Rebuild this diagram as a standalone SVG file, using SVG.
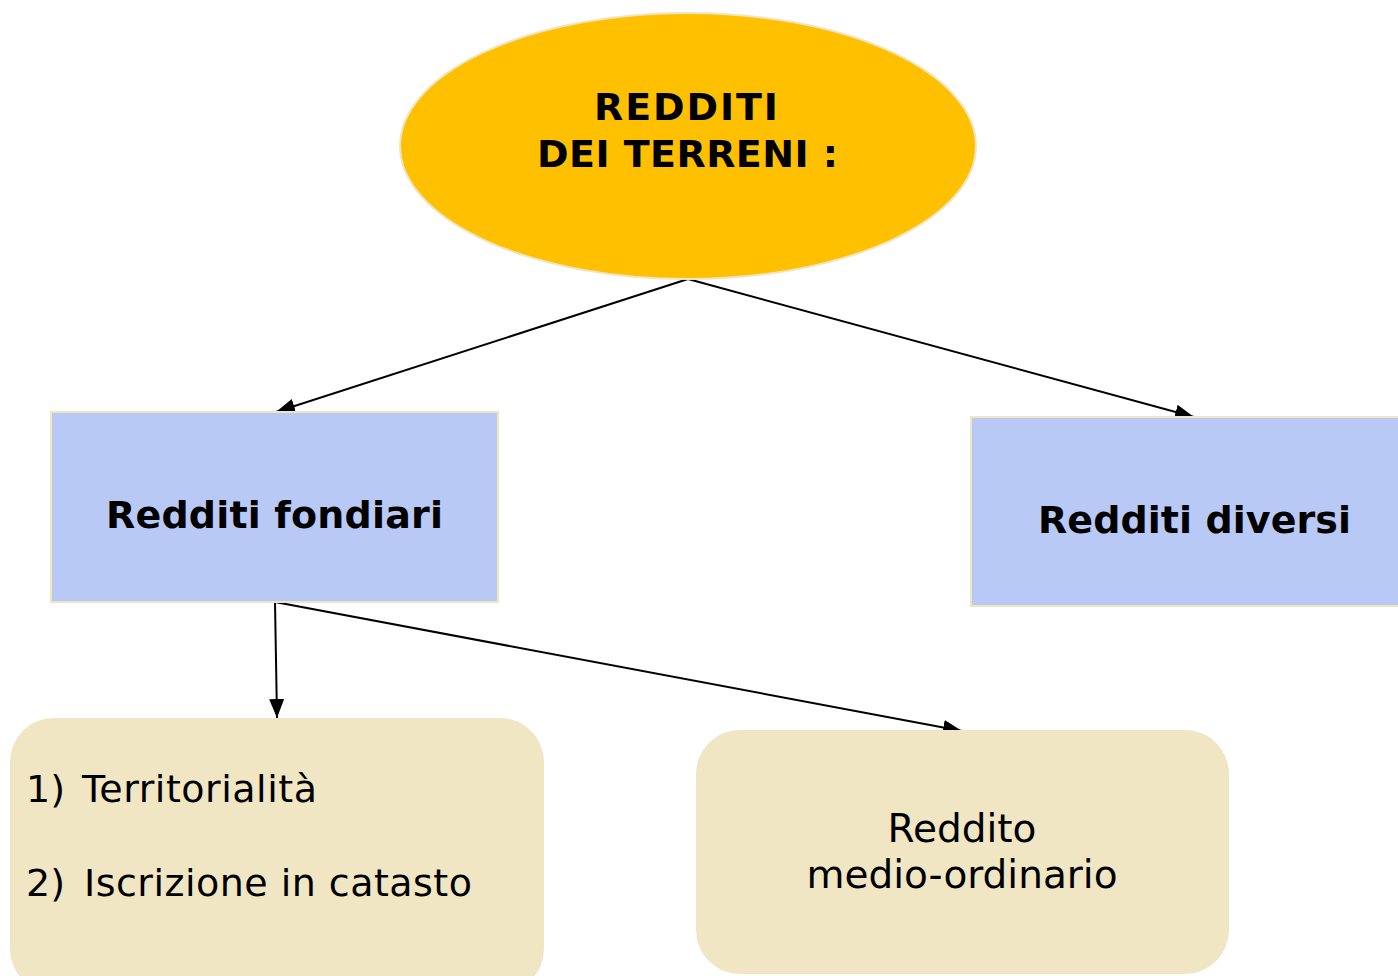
<svg xmlns="http://www.w3.org/2000/svg" width="1398" height="976" viewBox="0 0 1398 976">
<style>
.bold{font-family:"DejaVu Sans","Liberation Sans",sans-serif;font-weight:bold;fill:#000}
.reg{font-family:"DejaVu Sans","Liberation Sans",sans-serif;fill:#000}
.blue{fill:#B9C9F6;stroke:#EFE5C0;stroke-width:2}
.beige{fill:#F0E6C4;stroke:none}
.conn{stroke:#000;stroke-width:2;fill:none;marker-end:url(#arr)}
</style>
<defs>
<marker id="arr" viewBox="0 0 10 10" refX="10" refY="5" markerUnits="userSpaceOnUse" markerWidth="19" markerHeight="15" orient="auto" preserveAspectRatio="none">
<path d="M0,0 L10,5 L0,10 z" fill="#000"/>
</marker>
</defs>
<rect width="1398" height="976" fill="#fff"/>
<g id="connectors">
<line class="conn" x1="688" y1="279" x2="276" y2="412"/>
<line class="conn" x1="688" y1="279" x2="1194" y2="417"/>
<line class="conn" x1="275" y1="602" x2="277" y2="718"/>
<line class="conn" x1="275" y1="602" x2="962" y2="731"/>
</g>
<g id="root">
<ellipse cx="688" cy="146" rx="288" ry="133" fill="#FFC000" stroke="#EFE5C0" stroke-width="2"/>
<text class="bold" font-size="38" x="594" y="120" textLength="184" lengthAdjust="spacing">REDDITI</text>
<text class="bold" font-size="38" x="537" y="167" textLength="301" lengthAdjust="spacing">DEI TERRENI :</text>
</g>
<g id="fondiari">
<rect class="blue" x="51" y="412" width="447" height="190"/>
<text class="bold" font-size="38" x="106" y="528" textLength="337" lengthAdjust="spacing">Redditi fondiari</text>
</g>
<g id="diversi">
<rect class="blue" x="971" y="417" width="446" height="189"/>
<text class="bold" font-size="38" x="1038" y="533" textLength="313" lengthAdjust="spacing">Redditi diversi</text>
</g>
<g id="requisiti">
<rect class="beige" x="10" y="718" width="534" height="275" rx="44" ry="44"/>
<text class="reg" font-size="38" x="26" y="802">1)</text>
<text class="reg" font-size="38" x="82" y="802" textLength="235" lengthAdjust="spacing">Territorialità</text>
<text class="reg" font-size="38" x="26" y="896">2)</text>
<text class="reg" font-size="38" x="84" y="896" textLength="388" lengthAdjust="spacing">Iscrizione in catasto</text>
</g>
<g id="reddito">
<rect class="beige" x="696" y="730" width="533" height="244" rx="44" ry="44"/>
<text class="reg" font-size="39" x="962" y="842" text-anchor="middle">Reddito</text>
<text class="reg" font-size="39" x="962" y="888" text-anchor="middle" textLength="311" lengthAdjust="spacing">medio-ordinario</text>
</g>
</svg>
